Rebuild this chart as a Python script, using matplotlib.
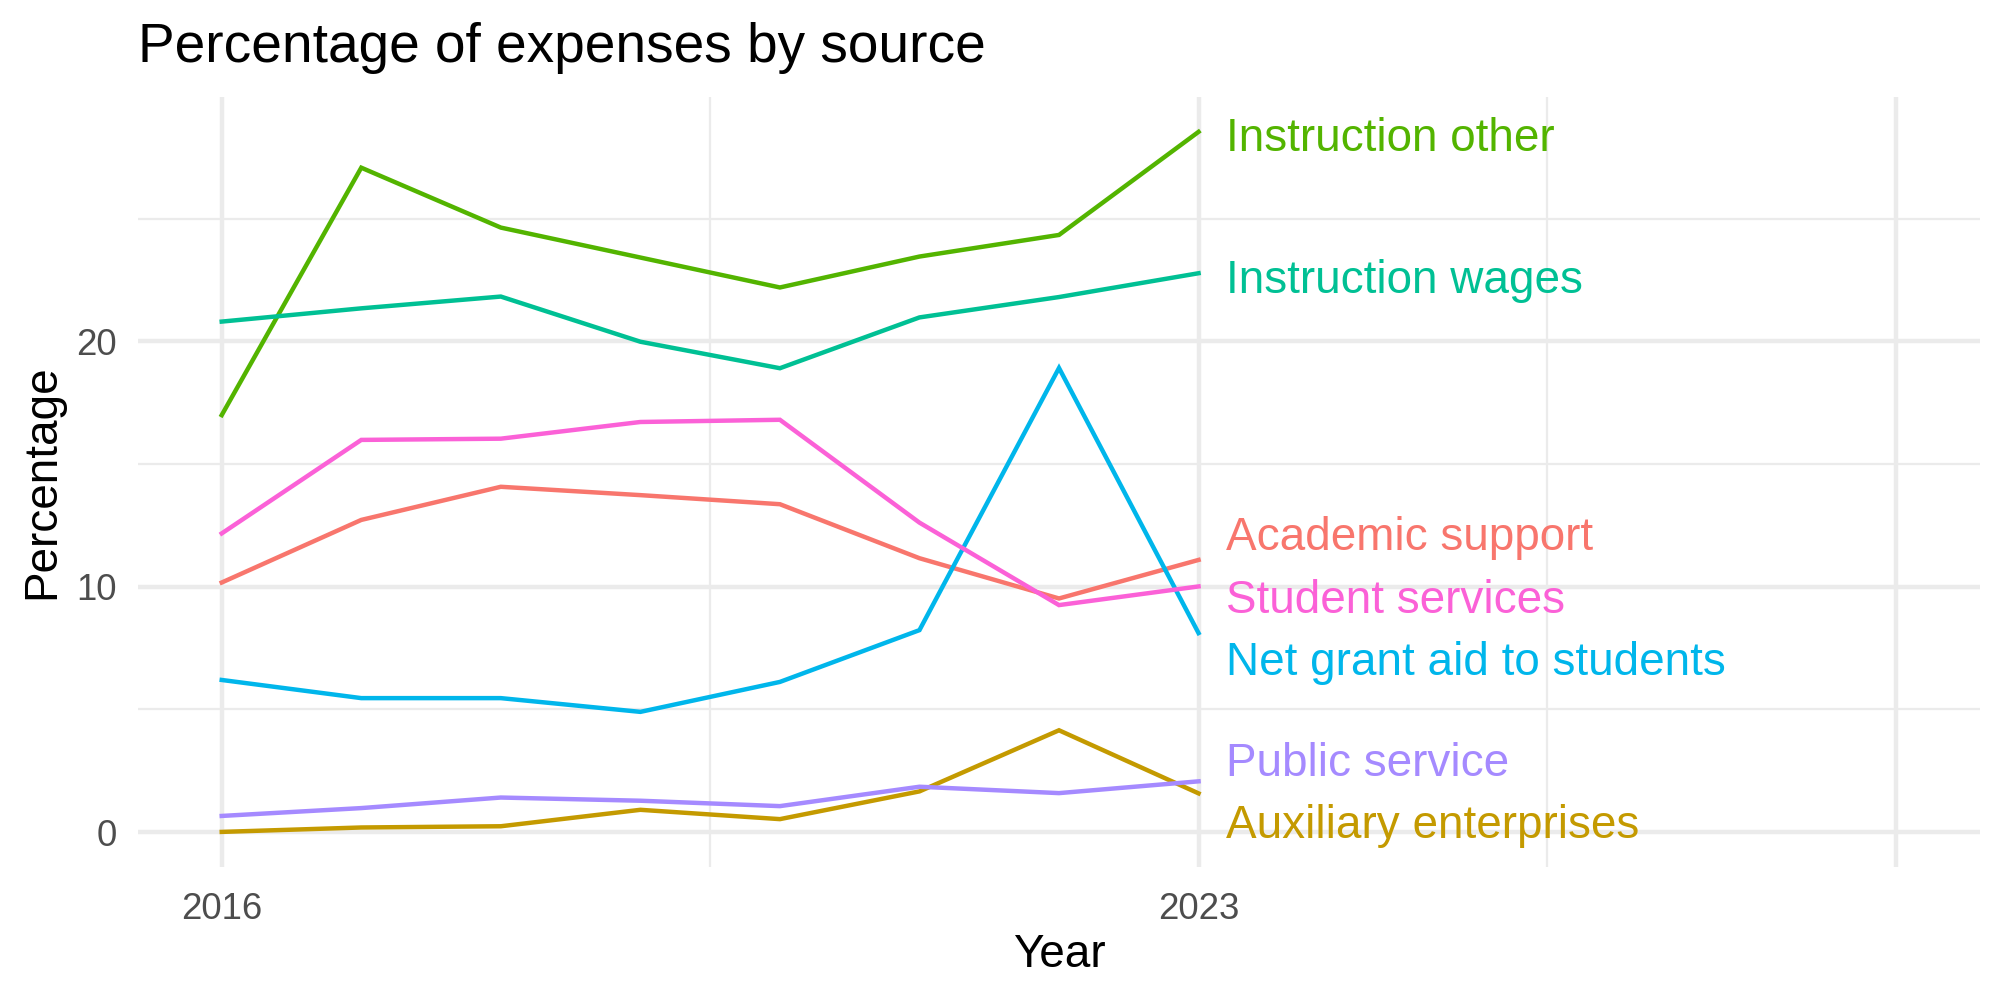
import matplotlib
matplotlib.use("Agg")
import matplotlib.pyplot as plt
import matplotlib.transforms as mtransforms
import numpy as np

plt.rcParams['font.family'] = ['Liberation Sans', 'DejaVu Sans']

years = [2016, 2017, 2018, 2019, 2020, 2021, 2022, 2023]
categories = ["Academic support", "Auxiliary enterprises", "Instruction other",
              "Instruction wages", "Net grant aid to students", "Public service",
              "Student services"]
academic_support = [10.17, 12.72, 14.07, 13.73, 13.36, 11.16, 9.52, 11.09]
auxiliary_enterprises = [0.01, 0.19, 0.24, 0.91, 0.53, 1.66, 4.15, 1.58]
instruction_other = [16.99, 27.07, 24.63, 23.41, 22.19, 23.45, 24.33, 28.53]
instruction_wages = [20.80, 21.34, 21.82, 19.98, 18.90, 20.97, 21.80, 22.77]
net_grant_aid = [6.20, 5.46, 5.46, 4.90, 6.12, 8.23, 18.91, 8.11]
public_service = [0.66, 0.98, 1.41, 1.28, 1.06, 1.85, 1.59, 2.07]
student_services = [12.17, 15.98, 16.03, 16.71, 16.80, 12.61, 9.25, 10.01]
series = [academic_support, auxiliary_enterprises, instruction_other,
          instruction_wages, net_grant_aid, public_service, student_services]
colors = ["#F8766D", "#C49A00", "#53B400", "#00C094", "#00B6EB", "#A58AFF", "#FB61D7"]

x_breaks = [2016, 2023, 2028]
x_labels = ["2016", "2023", ""]
x_minor = [2019.5, 2025.5]
y_breaks = [0, 10, 20]
y_minor = [5, 15, 25]


def repel(values, gap):
    order = np.argsort(values)
    groups = [[i] for i in order]
    pos = {i: values[i] for i in order}
    changed = True
    while changed:
        changed = False
        new_groups = []
        for g in groups:
            if new_groups:
                prev = new_groups[-1]
                if pos[g[0]] - pos[prev[-1]] < gap - 1e-9:
                    merged = prev + g
                    m = np.mean([values[i] for i in merged])
                    n = len(merged)
                    for k, i in enumerate(merged):
                        pos[i] = m + (k - (n - 1) / 2) * gap
                    new_groups[-1] = merged
                    changed = True
                    continue
            new_groups.append(g)
        groups = new_groups
    return [pos[i] for i in range(len(values))]


fig = plt.figure(figsize=(20, 10), dpi=100)
ax = fig.add_axes([0.069, 0.133, 0.921, 0.770])

for v in x_breaks:
    ax.axvline(v, color="#EBEBEB", lw=3.2, zorder=0)
for v in x_minor:
    ax.axvline(v, color="#EBEBEB", lw=1.6, zorder=0)
for v in y_breaks:
    ax.axhline(v, color="#EBEBEB", lw=3.2, zorder=0)
for v in y_minor:
    ax.axhline(v, color="#EBEBEB", lw=1.6, zorder=0)

for s, c in zip(series, colors):
    ax.plot(years, s, color=c, lw=3.2, solid_joinstyle="miter", zorder=2)

last_vals = [s[-1] for s in series]
label_y = repel(last_vals, 2.55)
text_tr = mtransforms.offset_copy(ax.transData, fig=fig, x=0, y=-5.4, units="points")
for name, c, ly in zip(categories, colors, label_y):
    ax.text(years[-1] + 0.2, ly, name, color=c, fontsize=33, ha="left", va="center",
            transform=text_tr)

ax.set_xlim(2015.4, 2028.6)
ax.set_ylim(-1.42, 29.95)
ax.set_xticks(x_breaks)
ax.set_xticklabels(x_labels)
ax.set_yticks(y_breaks)
ax.tick_params(axis="both", length=0, labelsize=26.4, labelcolor="#4D4D4D")
ax.tick_params(axis="x", pad=18)
ax.tick_params(axis="y", pad=15)
for sp in ax.spines.values():
    sp.set_visible(False)

ax.set_xlabel("Year", fontsize=33, color="black", labelpad=4)
ax.set_ylabel("Percentage", fontsize=33, color="black", labelpad=8.5)
fig.text(0.069, 1 - 61.5 / 1000, "Percentage of expenses by source", fontsize=39.6,
         color="black", ha="left", va="baseline")

fig.savefig("out.png", dpi=100, facecolor="white")
